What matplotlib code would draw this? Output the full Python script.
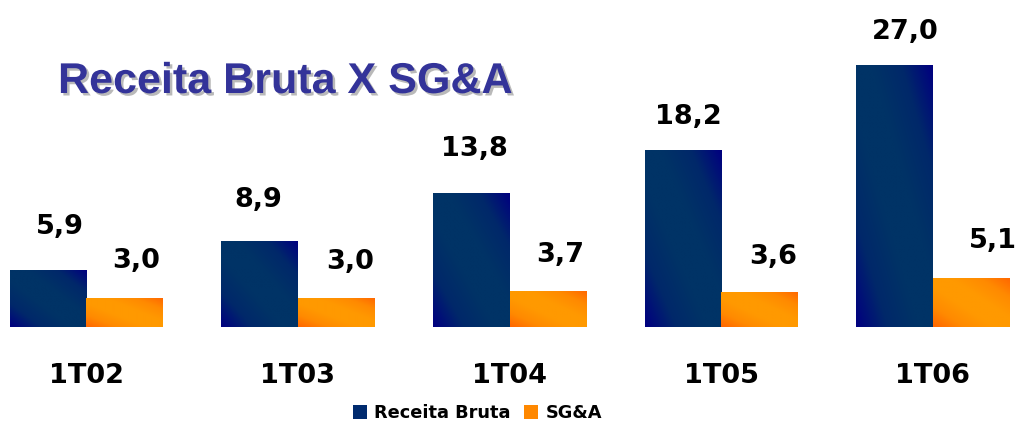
import numpy as np
import matplotlib
matplotlib.use("Agg")
import matplotlib.pyplot as plt
import matplotlib.patheffects as pe
from matplotlib.colors import LinearSegmentedColormap
from matplotlib.patches import Patch

# data
periodos = ["1T02", "1T03", "1T04", "1T05", "1T06"]
receita_bruta = [5.9, 8.9, 13.8, 18.2, 27.0]
sga = [3.0, 3.0, 3.7, 3.6, 5.1]

# hand placed label nudges (pixels), as in the original slide
nudge_rb = [(12, 36), (-1, 34), (3, 37), (5, 26), (11, 26)]
nudge_sga = [(12, 30), (14, 29), (12, 29), (14, 28), (22, 30)]

W, H = 1021, 423
fig = plt.figure(figsize=(W / 100, H / 100), dpi=100)
fig.patch.set_facecolor("white")
ax = fig.add_axes([0, 0, 1, 1])
ax.axis("off")

group_px = 211.75
px_per_unit = 9.73
base_px = 95.5
bar_w = 76.5 / group_px

cmap_blue = LinearSegmentedColormap.from_list(
    "rb", ["#000080", "#00286a", "#003366", "#003366", "#00286a", "#000080"])
cmap_orange = LinearSegmentedColormap.from_list(
    "sga", ["#ff6600", "#ff8a00", "#ff9900", "#ff9900", "#ff8a00", "#ff6600"])

# diagonal gradient, bottom-left to top-right
u, v = np.meshgrid(np.linspace(0, 1, 60), np.linspace(1, 0, 120))
grad = (u + v) / 2


def gradient_bars(xs, vals, cmap):
    bars = ax.bar(xs, vals, width=bar_w, color="none", edgecolor="none")
    for b in bars:
        x0, y0 = b.get_x(), b.get_y()
        im = ax.imshow(grad, cmap=cmap, vmin=0, vmax=1, aspect="auto",
                       interpolation="bilinear",
                       extent=[x0, x0 + b.get_width(), y0, y0 + b.get_height()],
                       zorder=2)
        im.set_clip_path(b)
    return bars


x = np.arange(len(periodos))
gradient_bars(x - bar_w / 2, receita_bruta, cmap_blue)
gradient_bars(x + bar_w / 2, sga, cmap_orange)

ax.set_xlim(-86 / group_px, (W - 86) / group_px)
ax.set_ylim(-base_px / px_per_unit, (H - base_px) / px_per_unit)

lbl = dict(ha="center", va="baseline", fontsize=19.5, fontweight="bold",
           color="black", family="DejaVu Sans", textcoords="offset pixels")
for i in range(len(periodos)):
    ax.annotate(f"{receita_bruta[i]:.1f}".replace(".", ","),
                (x[i] - bar_w / 2, receita_bruta[i]), xytext=nudge_rb[i], **lbl)
    ax.annotate(f"{sga[i]:.1f}".replace(".", ","),
                (x[i] + bar_w / 2, sga[i]), xytext=nudge_sga[i], **lbl)
    ax.annotate(periodos[i], (x[i], 0), xytext=(0, -55.5), **lbl)

# title with drop shadow
fig.text(58 / W, 1 - 93 / H, "Receita Bruta X SG&A", ha="left", va="baseline",
         fontsize=31, fontweight="bold", color="#333399",
         family="Liberation Sans",
         path_effects=[pe.withSimplePatchShadow(offset=(1.8, -1.8),
                                                shadow_rgbFace="#a8a8a8",
                                                alpha=0.8)])

handles = [Patch(facecolor="#002a6e", edgecolor="none"),
           Patch(facecolor="#ff8800", edgecolor="none")]
fig.legend(handles, ["Receita Bruta", "SG&A"], loc="center",
           bbox_to_anchor=(477.5 / W, 1 - 413 / H), ncol=2, frameon=False,
           handlelength=0.8, handleheight=0.8, handletextpad=0.42,
           columnspacing=0.75, borderpad=0,
           prop=dict(weight="bold", size=12.8, family="DejaVu Sans"))

fig.savefig("out.png", dpi=100)
